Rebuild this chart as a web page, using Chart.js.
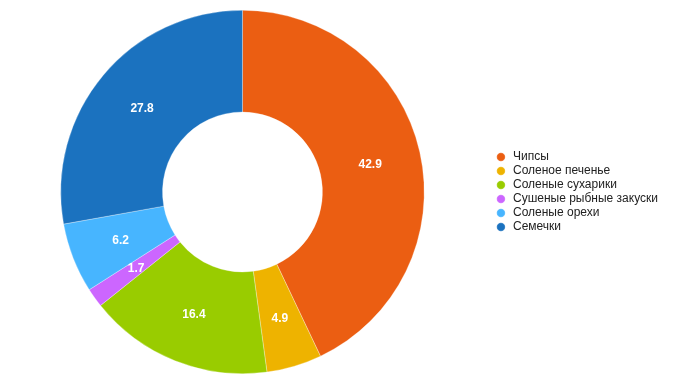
<!DOCTYPE html>
<html>
<head>
<meta charset="utf-8">
<script src="https://cdn.jsdelivr.net/npm/chart.js@4/dist/chart.umd.min.js"></script>
<style>
html,body{margin:0;padding:0;background:#fff;}
#wrap{width:678px;height:384px;position:relative;}
</style>
</head>
<body>
<div id="wrap"><canvas id="c" width="678" height="384"></canvas></div>
<script>
const categories = ["Чипсы","Соленое печенье","Соленые сухарики","Сушеные рыбные закуски","Соленые орехи","Семечки"];
const values = [42.9, 4.9, 16.4, 1.7, 6.2, 27.8];
const colors = ["#EB5E12","#EEB300","#99CC00","#CC66FF","#47B5FF","#1B72BF"];

const labelPlugin = {
  id: 'sliceLabels',
  afterDatasetsDraw(chart) {
    const ctx = chart.ctx;
    const meta = chart.getDatasetMeta(0);
    ctx.save();
    ctx.font = 'bold 12px "Liberation Sans", Arial, sans-serif';
    ctx.fillStyle = '#fff';
    ctx.textAlign = 'center';
    ctx.textBaseline = 'middle';
    meta.data.forEach((arc, i) => {
      const p = arc.tooltipPosition();
      ctx.fillText(values[i].toFixed(1), p.x, p.y + 1);
    });
    ctx.restore();
  }
};

const legendShift = {
  id: 'legendShift',
  afterLayout(chart) {
    const l = chart.legend;
    if (l) { l.left += 8; l.right += 8; }
  }
};

new Chart(document.getElementById('c'), {
  type: 'doughnut',
  data: {
    labels: categories,
    datasets: [{
      data: values,
      backgroundColor: colors,
      borderColor: 'rgba(255,255,255,0.6)',
      borderWidth: 0.5
    }]
  },
  options: {
    responsive: false,
    animation: false,
    cutout: '44%',
    layout: { padding: { top: 10, bottom: 10, left: 0, right: 18 } },
    plugins: {
      legend: {
        position: 'right',
        align: 'center',
        labels: {
          usePointStyle: true,
          pointStyle: 'circle',
          boxWidth: 12,
          boxHeight: 6,
          padding: 2,
          color: '#222',
          font: { family: '"Liberation Sans", Arial, sans-serif', size: 12 }
        }
      },
      tooltip: { enabled: false }
    }
  },
  plugins: [labelPlugin, legendShift]
});
</script>
</body>
</html>
